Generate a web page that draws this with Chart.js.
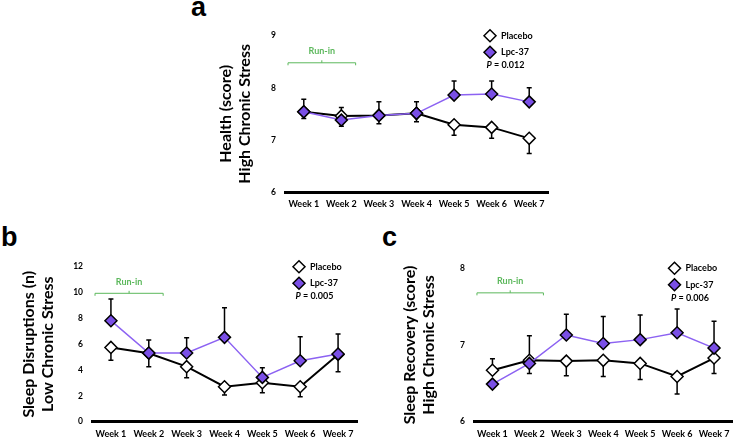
<!DOCTYPE html>
<html>
<head>
<meta charset="utf-8">
<script src="https://cdn.jsdelivr.net/npm/chart.js@4.4.1/dist/chart.umd.min.js"></script>
<style>
  body { margin: 0; width: 740px; height: 438px; background: #fff; position: relative; overflow: hidden; }
  canvas { position: absolute; }
  .letter { position: absolute; font: bold 27px "Liberation Sans", Arial, sans-serif; line-height: 27px; color: #000; }
</style>
</head>
<body>
<div class="letter" style="left:191px; top:-6px">a</div>
<div class="letter" style="left:1px; top:224px">b</div>
<div class="letter" style="left:382px; top:224px">c</div>

<canvas id="chartA" width="380" height="215" style="left:180px; top:0px"></canvas>
<canvas id="chartB" width="370" height="218" style="left:0px; top:220px"></canvas>
<canvas id="chartC" width="370" height="218" style="left:370px; top:220px"></canvas>

<script>
const weeks = ['Week 1', 'Week 2', 'Week 3', 'Week 4', 'Week 5', 'Week 6', 'Week 7'];

// a - health score, high chronic stress
const healthPlacebo = [7.54, 7.46, 7.47, 7.51, 7.29, 7.24, 7.03];
const healthLpc = [7.54, 7.38, 7.47, 7.51, 7.86, 7.88, 7.73];
const healthPlaceboErr = [7.41, 7.26, 7.31, 7.35, 7.09, 7.03, 6.74];
const healthLpcErr = [7.78, 7.62, 7.73, 7.73, 8.13, 8.13, 8.00];

// b - sleep disruptions, low chronic stress
const disruptPlacebo = [5.75, 5.30, 4.26, 2.71, 3.02, 2.71, 5.20];
const disruptLpc = [7.82, 5.32, 5.32, 6.53, 3.43, 4.72, 5.24];
const disruptPlaceboErr = [4.75, 4.26, 3.41, 2.06, 2.25, 1.94, 3.87];
const disruptLpcErr = [9.50, 6.32, 6.50, 8.83, 4.18, 6.58, 6.79];

// c - sleep recovery, high chronic stress
const recoveryPlacebo = [6.67, 6.80, 6.79, 6.80, 6.76, 6.59, 6.83];
const recoveryLpc = [6.49, 6.76, 7.13, 7.02, 7.07, 7.16, 6.96];
const recoveryPlaceboErr = [6.82, 6.63, 6.60, 6.59, 6.55, 6.36, 6.63];
const recoveryLpcErr = [null, 7.12, 7.40, 7.37, 7.39, 7.47, 7.31];

const purpleFill = '#7a4fe6';
const purpleLine = '#8c62f2';
const runInColor = '#5cb85c';

Chart.defaults.font.family = 'Lato, sans-serif';
Chart.defaults.color = '#000';

// vertical error bars, drawn under the markers
const errorBars = {
    id: 'errorBars',
    beforeDatasetsDraw(chart) {
        const ctx = chart.ctx;
        const yScale = chart.scales.y;
        chart.data.datasets.forEach((ds, i) => {
            const meta = chart.getDatasetMeta(i);
            ctx.save();
            ctx.strokeStyle = '#000';
            ctx.lineWidth = 1.5;
            meta.data.forEach((pt, j) => {
                const end = ds.errorEnd[j];
                if (end == null) return;
                const ye = yScale.getPixelForValue(end);
                ctx.beginPath();
                ctx.moveTo(pt.x, pt.y);
                ctx.lineTo(pt.x, ye);
                ctx.moveTo(pt.x - 2.5, ye);
                ctx.lineTo(pt.x + 2.5, ye);
                ctx.stroke();
            });
            ctx.restore();
        });
    }
};

function diamond(ctx, x, y, r, fill) {
    ctx.beginPath();
    ctx.moveTo(x - r, y);
    ctx.lineTo(x, y - r);
    ctx.lineTo(x + r, y);
    ctx.lineTo(x, y + r);
    ctx.closePath();
    ctx.fillStyle = fill;
    ctx.fill();
    ctx.lineWidth = 1.5;
    ctx.strokeStyle = '#000';
    ctx.stroke();
}

// run-in bracket + legend with p value
const panelDecor = {
    id: 'panelDecor',
    afterDraw(chart, args, opts) {
        const {ctx, chartArea} = chart;
        const xs = chart.scales.x, ys = chart.scales.y;
        ctx.save();

        const bx0 = xs.getPixelForValue(-0.42);
        const bx1 = xs.getPixelForValue(1.38);
        const bm = (bx0 + bx1) / 2;
        const by = ys.getPixelForValue(opts.runInY);
        ctx.strokeStyle = runInColor;
        ctx.lineWidth = 1;
        ctx.beginPath();
        ctx.moveTo(bx0, by + 2.5);
        ctx.lineTo(bx0, by);
        ctx.lineTo(bx1, by);
        ctx.lineTo(bx1, by + 2.5);
        ctx.moveTo(bm, by);
        ctx.lineTo(bm, by - 2.5);
        ctx.stroke();
        ctx.fillStyle = runInColor;
        ctx.font = 'bold 9px Lato';
        ctx.textAlign = 'center';
        ctx.textBaseline = 'middle';
        ctx.fillText('Run-in', bm, by - 11.5);

        const lx = chartArea.right - 58;
        chart.data.datasets.forEach((ds, i) => {
            const ly = chartArea.top + i * 16.5;
            diamond(ctx, lx, ly, 6, ds.pointBackgroundColor);
            ctx.fillStyle = '#000';
            ctx.font = 'bold 9px Lato';
            ctx.textAlign = 'left';
            ctx.fillText(ds.label, lx + 11, ly);
        });

        // P = value, with italic P
        const py = chartArea.top + 29.5;
        ctx.font = 'italic bold 9px Lato';
        const wP = ctx.measureText('P').width;
        ctx.font = 'bold 9px Lato';
        const rest = ' = ' + opts.pValue;
        const wR = ctx.measureText(rest).width;
        const px = lx + 15.5 - (wP + wR) / 2;
        ctx.textAlign = 'left';
        ctx.font = 'italic bold 9px Lato';
        ctx.fillText('P', px, py);
        ctx.font = 'bold 9px Lato';
        ctx.fillText(rest, px + wP, py);
        ctx.restore();
    }
};

function makePanel(id, cfg) {
    return new Chart(document.getElementById(id), {
        type: 'line',
        data: {
            labels: weeks,
            datasets: [{
                label: 'Placebo',
                data: cfg.placebo,
                errorEnd: cfg.placeboErr,
                borderColor: '#000',
                borderWidth: 2,
                pointStyle: 'rectRot',
                pointRadius: 6,
                pointBackgroundColor: '#fff',
                pointBorderColor: '#000',
                pointBorderWidth: 1.5,
                order: 2
            }, {
                label: 'Lpc-37',
                data: cfg.lpc,
                errorEnd: cfg.lpcErr,
                borderColor: purpleLine,
                borderWidth: 1.5,
                pointStyle: 'rectRot',
                pointRadius: 6,
                pointBackgroundColor: purpleFill,
                pointBorderColor: '#000',
                pointBorderWidth: 1.5,
                order: 1
            }]
        },
        options: {
            responsive: false,
            animation: false,
            layout: { padding: cfg.pad },
            plugins: {
                legend: { display: false },
                tooltip: { enabled: false },
                panelDecor: { runInY: cfg.runInY, pValue: cfg.pValue }
            },
            scales: {
                x: {
                    offset: true,
                    grid: { display: false, drawTicks: false },
                    border: { display: true, color: '#000', width: 3 },
                    ticks: { color: '#000', font: { size: 9, weight: 'bold' }, padding: 6.5, autoSkip: false, maxRotation: 0 },
                    afterFit: s => { s.height = cfg.xH; }
                },
                y: {
                    min: cfg.min,
                    max: cfg.max,
                    grid: { display: false, drawTicks: false },
                    border: { display: false },
                    ticks: { stepSize: cfg.step, color: '#000', font: { size: 8.5, weight: 'bold' }, padding: 9 },
                    title: {
                        display: true,
                        text: cfg.title,
                        color: '#000',
                        font: { size: 16, weight: 'bold', lineHeight: 1.2 },
                        padding: { top: 4, bottom: 0 }
                    },
                    afterFit: s => { s.width = cfg.yW; }
                }
            }
        },
        plugins: [errorBars, panelDecor]
    });
}

makePanel('chartA', {
    placebo: healthPlacebo, lpc: healthLpc,
    placeboErr: healthPlaceboErr, lpcErr: healthLpcErr,
    min: 6, max: 9, step: 1,
    title: ['Health (score)', 'High Chronic Stress'],
    pValue: '0.012', runInY: 8.48,
    pad: { left: 32.5, top: 35.7, right: 12, bottom: 0 }, yW: 72.5, xH: 23
});

makePanel('chartB', {
    placebo: disruptPlacebo, lpc: disruptLpc,
    placeboErr: disruptPlaceboErr, lpcErr: disruptLpcErr,
    min: 0, max: 12, step: 2,
    title: ['Sleep Disruptions (n)', 'Low Chronic Stress'],
    pValue: '0.005', runInY: 9.94,
    pad: { left: 15.5, top: 46.7, right: 13, bottom: 0 }, yW: 76.5, xH: 16.3
});

makePanel('chartC', {
    placebo: recoveryPlacebo, lpc: recoveryLpc,
    placeboErr: recoveryPlaceboErr, lpcErr: recoveryLpcErr,
    min: 6, max: 8, step: 1,
    title: ['Sleep Recovery (score)', 'High Chronic Stress'],
    pValue: '0.006', runInY: 7.68,
    pad: { left: 26.5, top: 48.3, right: 2, bottom: 0 }, yW: 77.5, xH: 16.3
});
</script>
</body>
</html>
